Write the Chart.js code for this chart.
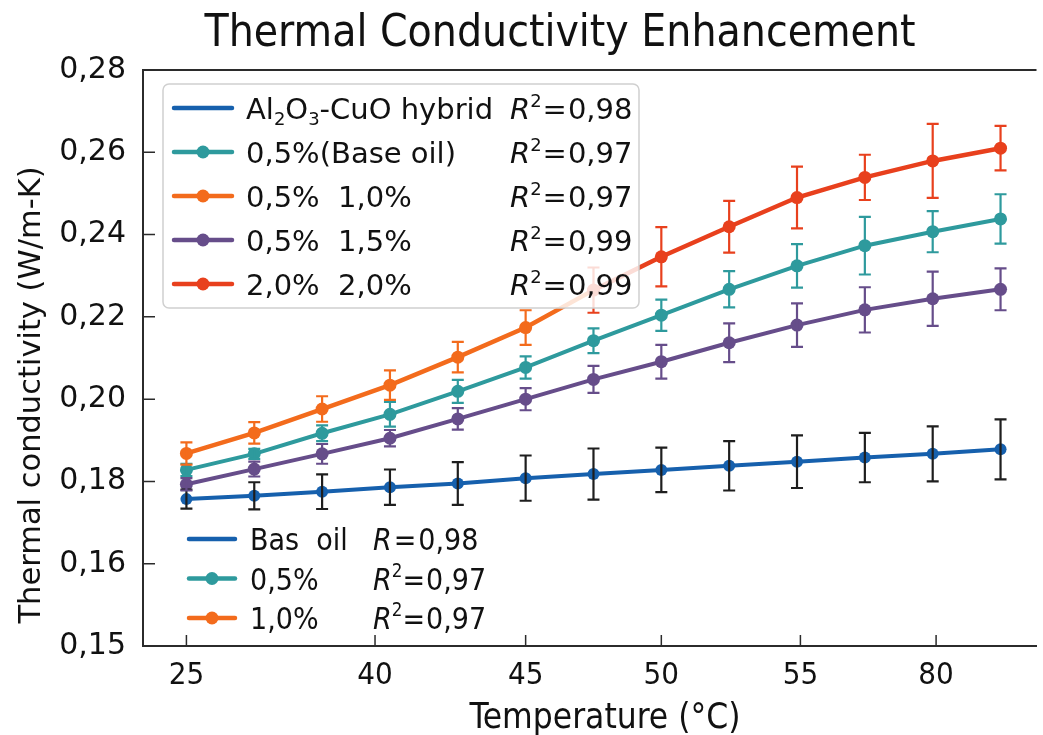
<!DOCTYPE html>
<html>
<head>
<meta charset="utf-8">
<title>Thermal Conductivity Enhancement</title>
<script src="https://cdn.jsdelivr.net/npm/chart.js@4.4.1/dist/chart.umd.min.js"></script>
<style>
  html, body { margin: 0; padding: 0; background: #ffffff; }
  #chart { display: block; }
</style>
</head>
<body>
<canvas id="chart" width="1043" height="735"></canvas>
<script>
// x tick positions (point index units) and their labels as printed
const xTickAt = [0, 2.78, 5, 7, 9.05, 11.05];
const xTickLabels = ['25', '40', '45', '50', '55', '80'];
// y ticks (bottom label reads 0,15 in the original)
const yTickAt = [0.14, 0.16, 0.18, 0.20, 0.22, 0.24, 0.26, 0.28];
const yTickLabels = ['0,15', '0,16', '0,18', '0,20', '0,22', '0,24', '0,26', '0,28'];

// measurements, 13 points each
const baseOil    = [0.1757, 0.1765, 0.1775, 0.1786, 0.1795, 0.1808, 0.1818, 0.1828, 0.1838, 0.1848, 0.1858, 0.1867, 0.1878];
const baseOilErr = [0.0023, 0.0033, 0.0042, 0.0043, 0.0052, 0.0055, 0.0062, 0.0054, 0.0060, 0.0064, 0.0060, 0.0067, 0.0073];
const pct05      = [0.1828, 0.1867, 0.1917, 0.1963, 0.2019, 0.2077, 0.2142, 0.2204, 0.2267, 0.2324, 0.2373, 0.2407, 0.2438];
const pct05Err   = [0.0015, 0.0012, 0.0019, 0.0030, 0.0028, 0.0027, 0.0030, 0.0038, 0.0044, 0.0053, 0.0070, 0.0050, 0.0060];
const pct15      = [0.1793, 0.1830, 0.1867, 0.1905, 0.1952, 0.2000, 0.2048, 0.2091, 0.2137, 0.2180, 0.2217, 0.2244, 0.2267];
const pct15Err   = [0.0015, 0.0018, 0.0024, 0.0020, 0.0026, 0.0027, 0.0033, 0.0041, 0.0047, 0.0053, 0.0055, 0.0066, 0.0051];
const pct20      = [0.1868, 0.1918, 0.1976, 0.2034, 0.2102, 0.2174, 0.2265, 0.2346, 0.2419, 0.2490, 0.2539, 0.2579, 0.2610];
const pct20Err   = [0.0027, 0.0026, 0.0031, 0.0036, 0.0037, 0.0042, 0.0055, 0.0072, 0.0063, 0.0075, 0.0055, 0.0090, 0.0054];

const BLUE = '#1660ad', TEAL = '#2e9a9d', ORANGE = '#f36b1c', PURPLE = '#664d8a', RED = '#e8401d';
const AXIS = '#2b2b2b';
const SANS = '"DejaVu Sans", sans-serif';
const COND = '"DejaVu Sans Condensed", "DejaVu Sans", sans-serif';

const toXY = arr => arr.map((v, i) => ({ x: i, y: v }));
// top curve goes from orange to red part way along
const topColor = i => (i < 6 ? ORANGE : RED);

// draw a list of text runs (normal / sub / sup / italic) from x on baseline y
function drawRuns(ctx, x, y, runs, size, family) {
    runs.forEach(r => {
        const s = r.sub || r.sup ? size * 0.62 : size;
        ctx.font = (r.it ? 'italic ' : '') + s + 'px ' + family;
        const dy = r.sub ? size * 0.22 : r.sup ? -size * 0.42 : 0;
        ctx.fillText(r.t, x, y + dy);
        x += ctx.measureText(r.t).width + (r.gap || 0);
    });
}

function legendSample(ctx, x, y, len, color, marker) {
    ctx.strokeStyle = color;
    ctx.lineWidth = 4.5;
    ctx.lineCap = 'round';
    ctx.beginPath();
    ctx.moveTo(x, y);
    ctx.lineTo(x + len, y);
    ctx.stroke();
    if (marker) {
        ctx.fillStyle = color;
        ctx.beginPath();
        ctx.arc(x + len / 2, y, 6.5, 0, Math.PI * 2);
        ctx.fill();
    }
}

const decorations = {
    id: 'decorations',
    afterDatasetsDraw(chart) {
        const ctx = chart.ctx;
        const xs = chart.scales.x, ys = chart.scales.y;
        const area = chart.chartArea;

        // error bars
        const errSets = [baseOilErr, pct05Err, pct15Err, pct20Err];
        chart.data.datasets.forEach((ds, di) => {
            const meta = chart.getDatasetMeta(di);
            const err = errSets[di];
            ctx.save();
            ctx.lineWidth = 2.2;
            meta.data.forEach((pt, i) => {
                const v = ds.data[i].y;
                const top = ys.getPixelForValue(v + err[i]);
                const bot = ys.getPixelForValue(v - err[i]);
                ctx.strokeStyle = di === 0 ? '#1e1e1e' : di === 3 ? topColor(i) : ds.borderColor;
                ctx.beginPath();
                ctx.moveTo(pt.x, top); ctx.lineTo(pt.x, bot);
                ctx.moveTo(pt.x - 6, top); ctx.lineTo(pt.x + 6, top);
                ctx.moveTo(pt.x - 6, bot); ctx.lineTo(pt.x + 6, bot);
                ctx.stroke();
            });
            ctx.restore();
        });

        // frame top line and inward tick marks
        ctx.save();
        ctx.strokeStyle = AXIS;
        ctx.lineWidth = 2;
        ctx.beginPath();
        ctx.moveTo(area.left, area.top); ctx.lineTo(area.right, area.top);
        ctx.stroke();
        ctx.lineWidth = 1.5;
        ctx.beginPath();
        xTickAt.forEach(v => {
            const px = xs.getPixelForValue(v);
            ctx.moveTo(px, area.bottom); ctx.lineTo(px, area.bottom - 11);
        });
        yTickAt.forEach(v => {
            const py = ys.getPixelForValue(v);
            ctx.moveTo(area.left, py); ctx.lineTo(area.left + 12, py);
        });
        ctx.stroke();
        ctx.restore();

        // upper legend box
        ctx.save();
        ctx.fillStyle = 'rgba(255,255,255,0.82)';
        ctx.strokeStyle = '#d0d0d0';
        ctx.lineWidth = 1.5;
        ctx.beginPath();
        ctx.roundRect(163, 84, 476, 224, 6);
        ctx.fill();
        ctx.stroke();

        const rows1 = [
            { c: BLUE, m: false, label: [{ t: 'Al' }, { t: '2', sub: true }, { t: 'O' }, { t: '3', sub: true }, { t: '-CuO hybrid' }], r: '0,98' },
            { c: TEAL, m: true, label: [{ t: '0,5%(Base oil)' }], r: '0,97' },
            { c: ORANGE, m: true, label: [{ t: '0,5%  1,0%' }], r: '0,97' },
            { c: PURPLE, m: true, label: [{ t: '0,5%  1,5%' }], r: '0,99' },
            { c: RED, m: true, label: [{ t: '2,0%  2,0%' }], r: '0,99' }
        ];
        ctx.textAlign = 'left';
        ctx.textBaseline = 'alphabetic';
        rows1.forEach((row, i) => {
            const y = 108 + i * 44;
            legendSample(ctx, 174, y, 58, row.c, row.m);
            ctx.fillStyle = '#111';
            drawRuns(ctx, 246, y + 11, row.label, 29, SANS);
            drawRuns(ctx, 510, y + 11, [{ t: 'R', it: true }, { t: '2', sup: true, gap: 1 }, { t: '=', gap: 1 }, { t: row.r }], 29, SANS);
        });

        // lower legend, no frame
        const rows2 = [
            { c: BLUE, m: false, label: 'Bas  oil', r: [{ t: 'R', it: true, gap: 2 }, { t: '=', gap: 2 }, { t: '0,98' }] },
            { c: TEAL, m: true, label: '0,5%', r: [{ t: 'R', it: true }, { t: '2', sup: true }, { t: '=', gap: 1 }, { t: '0,97' }] },
            { c: ORANGE, m: true, label: '1,0%', r: [{ t: 'R', it: true }, { t: '2', sup: true }, { t: '=', gap: 1 }, { t: '0,97' }] }
        ];
        rows2.forEach((row, i) => {
            const y = 539 + i * 39.5;
            legendSample(ctx, 189, y, 46, row.c, row.m);
            ctx.fillStyle = '#111';
            drawRuns(ctx, 250, y + 11, [{ t: row.label }], 30, COND);
            drawRuns(ctx, 373, y + 11, row.r, 30, COND);
        });

        // titles
        ctx.fillStyle = '#111';
        ctx.textAlign = 'center';
        ctx.font = '44px ' + COND;
        ctx.fillText('Thermal Conductivity Enhancement', 560, 46);
        ctx.font = '35px ' + COND;
        ctx.fillText('Temperature (\u00B0C)', 605, 728);
        ctx.save();
        ctx.translate(40, 395);
        ctx.rotate(-Math.PI / 2);
        ctx.font = '30.5px ' + SANS;
        ctx.fillText('Thermal conductivity (W/m-K)', 0, 0);
        ctx.restore();
        ctx.restore();
    }
};

const ctx = document.getElementById('chart').getContext('2d');
new Chart(ctx, {
    type: 'line',
    data: {
        datasets: [
            {
                label: 'Base oil',
                data: toXY(baseOil),
                borderColor: BLUE,
                backgroundColor: BLUE,
                borderWidth: 4,
                pointRadius: 6,
                pointBorderWidth: 0
            },
            {
                label: '0,5%',
                data: toXY(pct05),
                borderColor: TEAL,
                backgroundColor: TEAL,
                borderWidth: 4,
                pointRadius: 6.5,
                pointBorderWidth: 0
            },
            {
                label: '1,5%',
                data: toXY(pct15),
                borderColor: PURPLE,
                backgroundColor: PURPLE,
                borderWidth: 4,
                pointRadius: 6.5,
                pointBorderWidth: 0
            },
            {
                label: '2,0%',
                data: toXY(pct20),
                borderColor: ORANGE,
                backgroundColor: pct20.map((v, i) => topColor(i)),
                pointBackgroundColor: pct20.map((v, i) => topColor(i)),
                segment: { borderColor: c => topColor(c.p0DataIndex) },
                borderWidth: 4.5,
                pointRadius: 6.5,
                pointBorderWidth: 0
            }
        ]
    },
    options: {
        responsive: false,
        animation: false,
        devicePixelRatio: 1,
        layout: { padding: { top: 70, right: 0, left: 0, bottom: 0 } },
        plugins: {
            legend: { display: false },
            title: { display: false },
            tooltip: { enabled: false }
        },
        scales: {
            x: {
                type: 'linear',
                min: -0.64,
                max: 12.53,
                afterFit: s => { s.height = 89; },
                afterBuildTicks: s => { s.ticks = xTickAt.map(v => ({ value: v })); },
                grid: { display: false, drawTicks: false },
                border: { display: true, color: AXIS, width: 2 },
                ticks: {
                    autoSkip: false,
                    maxRotation: 0,
                    padding: 11,
                    color: '#111',
                    font: { family: COND, size: 31 },
                    callback: (v, i) => xTickLabels[i]
                }
            },
            y: {
                min: 0.14,
                max: 0.28,
                afterFit: s => { s.width = 143; },
                afterBuildTicks: s => { s.ticks = yTickAt.map(v => ({ value: v })); },
                grid: { display: false, drawTicks: false },
                border: { display: true, color: AXIS, width: 2 },
                ticks: {
                    autoSkip: false,
                    padding: 17,
                    color: '#111',
                    font: { family: SANS, size: 30 },
                    callback: (v, i) => yTickLabels[i]
                }
            }
        }
    },
    plugins: [decorations]
});
</script>
</body>
</html>
